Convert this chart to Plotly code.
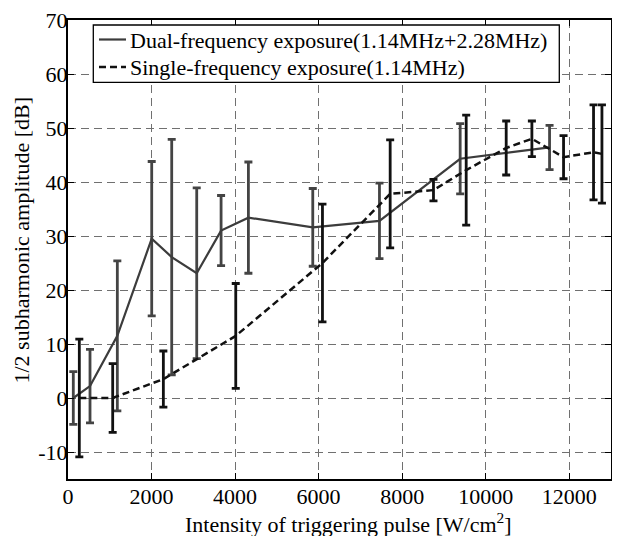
import plotly.graph_objects as go

# Dual-frequency exposure (1.14MHz+2.28MHz)
dual_x = [127, 527, 1181, 2004, 2483, 3082, 3665, 4319, 5860, 7457, 9389, 11529]
dual_y = [0.0, 2.2, 11.5, 29.5, 26.1, 23.1, 31.0, 33.4, 31.6, 32.8, 44.3, 46.4]
dual_err = [4.9, 6.8, 13.9, 14.3, 21.8, 15.8, 6.5, 10.3, 7.2, 7.0, 6.5, 4.1]

# Single-frequency exposure (1.14MHz)
single_x = [271, 1070, 2283, 4016, 6092, 7713, 8750, 9533, 10491, 11106, 11864, 12582, 12783]
single_y = [0.0, 0.0, 3.5, 11.5, 25.0, 37.8, 38.5, 42.2, 46.3, 48.0, 44.6, 45.5, 45.2]
single_err = [10.9, 6.35, 5.2, 9.7, 10.9, 10.0, 2.0, 10.2, 5.0, 3.3, 4.0, 8.8, 9.1]

x_ticks = [0, 2000, 4000, 6000, 8000, 10000, 12000]
x_ticktext = ["0", "2000", "4000", "6000", "8000", "10000", "12000"]
y_ticks = [-10, 0, 10, 20, 30, 40, 50, 60, 70]
y_ticktext = ["-10", "0", "10", "20", "30", "40", "50", "60", "70"]

dual_name = "Dual-frequency exposure(1.14MHz+2.28MHz)"
single_name = "Single-frequency exposure(1.14MHz)"
x_title = "Intensity of triggering pulse [W/cm<sup>2</sup>]"
y_title = "1/2 subharmonic amplitude [dB]"

FONT = "Liberation Serif, Times New Roman, serif"
DUAL_C = "#3c3c3c"
SINGLE_C = "#111111"
SINGLE_DASH = "7px,4px"

OFF = 8  # page body margin
W, H = 620, 536
ML, MR, MT, MB = 60, 17, 12, 65
PW, PH = W - ML - MR, H - MT - MB


def px_x(p):
    return (p - OFF - ML) / PW


def px_y(p):
    return (H - MB - (p - OFF)) / PH


fig = go.Figure()
fig.add_trace(go.Scatter(
    x=dual_x, y=dual_y, mode="lines", name=dual_name, showlegend=False,
    line=dict(color=DUAL_C, width=2.2),
    error_y=dict(type="data", array=dual_err, visible=True,
                 color="#444444", thickness=2.8, width=4),
))
fig.add_trace(go.Scatter(
    x=single_x, y=single_y, mode="lines", name=single_name, showlegend=False,
    line=dict(color=SINGLE_C, width=2.5, dash=SINGLE_DASH),
    error_y=dict(type="data", array=single_err, visible=True,
                 color=SINGLE_C, thickness=2.8, width=4),
))

axis_common = dict(
    showline=True, linecolor="black", linewidth=2, mirror="ticks",
    ticks="inside", ticklen=6, tickcolor="black", tickwidth=1,
    showgrid=True, gridcolor="#707070", gridwidth=1, griddash="8px,5px",
    zeroline=False, automargin=False, ticklabeloverflow="allow",
    tickfont=dict(family=FONT, size=22, color="black"),
)

# legend drawn as a box with line samples and labels
shapes = [
    dict(type="rect", xref="paper", yref="paper",
         x0=px_x(93.3), x1=px_x(559.3), y0=px_y(82.3), y1=px_y(25),
         line=dict(color="black", width=1.3), fillcolor="white", layer="above"),
    dict(type="line", xref="paper", yref="paper",
         x0=px_x(99), x1=px_x(126), y0=px_y(39.5), y1=px_y(39.5),
         line=dict(color=DUAL_C, width=2.2), layer="above"),
    dict(type="line", xref="paper", yref="paper",
         x0=px_x(99), x1=px_x(126), y0=px_y(67), y1=px_y(67),
         line=dict(color=SINGLE_C, width=2.5, dash=SINGLE_DASH), layer="above"),
]
annotations = [
    dict(text=dual_name, xref="paper", yref="paper", x=px_x(128), y=px_y(40.5),
         xanchor="left", yanchor="middle", showarrow=False,
         font=dict(family=FONT, size=22, color="black")),
    dict(text=single_name, xref="paper", yref="paper", x=px_x(128), y=px_y(68),
         xanchor="left", yanchor="middle", showarrow=False,
         font=dict(family=FONT, size=22, color="black")),
    dict(text=x_title, xref="paper", yref="paper", x=px_x(348), y=px_y(523),
         xanchor="center", yanchor="middle", showarrow=False,
         font=dict(family=FONT, size=22, color="black")),
    dict(text=y_title, xref="paper", yref="paper", x=px_x(21), y=px_y(240.5),
         xanchor="center", yanchor="middle", showarrow=False, textangle=-90,
         font=dict(family=FONT, size=22, color="black")),
]

fig.update_layout(
    width=W, height=H,
    margin=dict(l=ML, r=MR, t=MT, b=MB),
    paper_bgcolor="white", plot_bgcolor="white",
    font=dict(family=FONT, size=22, color="black"),
    showlegend=False,
    shapes=shapes,
    annotations=annotations,
    xaxis=dict(range=[0, 13000], tickvals=x_ticks, ticktext=x_ticktext,
               ticklabelstandoff=-3, **axis_common),
    yaxis=dict(range=[-15, 70], tickvals=y_ticks, ticktext=y_ticktext,
               ticklabelstandoff=-6, **axis_common),
)

fig.write_html("out.html")
